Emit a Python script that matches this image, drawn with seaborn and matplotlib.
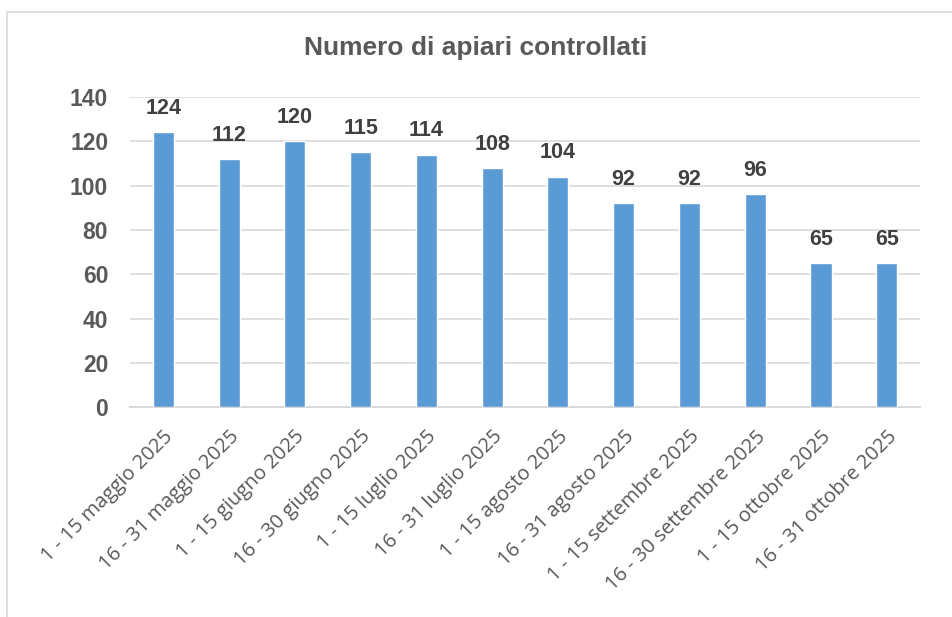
import matplotlib
matplotlib.use("Agg")
import matplotlib.pyplot as plt
import matplotlib.patches as mpatches
import pandas as pd
import seaborn as sns

# Data
periods = [
    "1 - 15 maggio 2025", "16 - 31 maggio 2025",
    "1 - 15 giugno 2025", "16 - 30 giugno 2025",
    "1 - 15 luglio 2025", "16 - 31 luglio 2025",
    "1 - 15 agosto 2025", "16 - 31 agosto 2025",
    "1 - 15 settembre 2025", "16 - 30 settembre 2025",
    "1 - 15 ottobre 2025", "16 - 31 ottobre 2025",
]
apiari = [124, 112, 120, 115, 114, 108, 104, 92, 92, 96, 65, 65]
y_ticks = [0, 20, 40, 60, 80, 100, 120, 140]
title = "Numero di apiari controllati"

BAR_COLOR = "#5B9BD5"
TEXT_COLOR = "#595959"
GRID_COLOR = "#D9D9D9"


def main():
    df = pd.DataFrame({"periodo": periods, "apiari": apiari})

    sns.set_style("white")
    fig = plt.figure(figsize=(9.52, 6.17), dpi=100)
    ax = fig.add_axes([0.137, 0.340, 0.829, 0.503])

    sns.barplot(data=df, x="periodo", y="apiari", color=BAR_COLOR,
                width=0.32, saturation=1, ax=ax, zorder=3)

    # value labels
    for i, v in enumerate(apiari):
        ax.text(i, v + 6, str(v), ha="center", va="bottom",
                fontsize=15.5, fontweight="bold", color="#404040",
                family="Liberation Sans")

    ax.set_ylim(0, 140)
    ax.set_xlim(-0.5, len(periods) - 0.5)
    ax.set_yticks(y_ticks)
    ax.set_yticklabels([str(t) for t in y_ticks], fontsize=16.5,
                       fontweight="bold", color=TEXT_COLOR,
                       family="Liberation Sans")
    ax.set_xticks(range(len(periods)))
    ax.set_xticklabels(periods, rotation=45, ha="right",
                       rotation_mode="anchor", fontsize=14.5,
                       color=TEXT_COLOR, family="Open Sans")
    ax.tick_params(axis="y", length=0, pad=16)
    ax.tick_params(axis="x", length=0, pad=14)
    ax.set_xlabel("")
    ax.set_ylabel("")

    ax.yaxis.grid(True, color=GRID_COLOR, linewidth=1.2, zorder=0)
    ax.set_axisbelow(True)
    for side in ["top", "right", "left"]:
        ax.spines[side].set_visible(False)
    ax.spines["bottom"].set_color(GRID_COLOR)
    ax.spines["bottom"].set_linewidth(1.5)

    fig.text(0.5, 0.922, title, ha="center", va="center", fontsize=19,
             fontweight="bold", color=TEXT_COLOR, family="Liberation Sans")

    # chart frame (cut off on the right and bottom)
    frame = mpatches.Rectangle((7 / 952, -0.05), 1.0, 1 - 12 / 617 + 0.05,
                               transform=fig.transFigure, fill=False,
                               edgecolor=GRID_COLOR, linewidth=1.2)
    fig.patches.append(frame)

    fig.savefig("out.png", dpi=100)
    plt.close(fig)


if __name__ == "__main__":
    main()
